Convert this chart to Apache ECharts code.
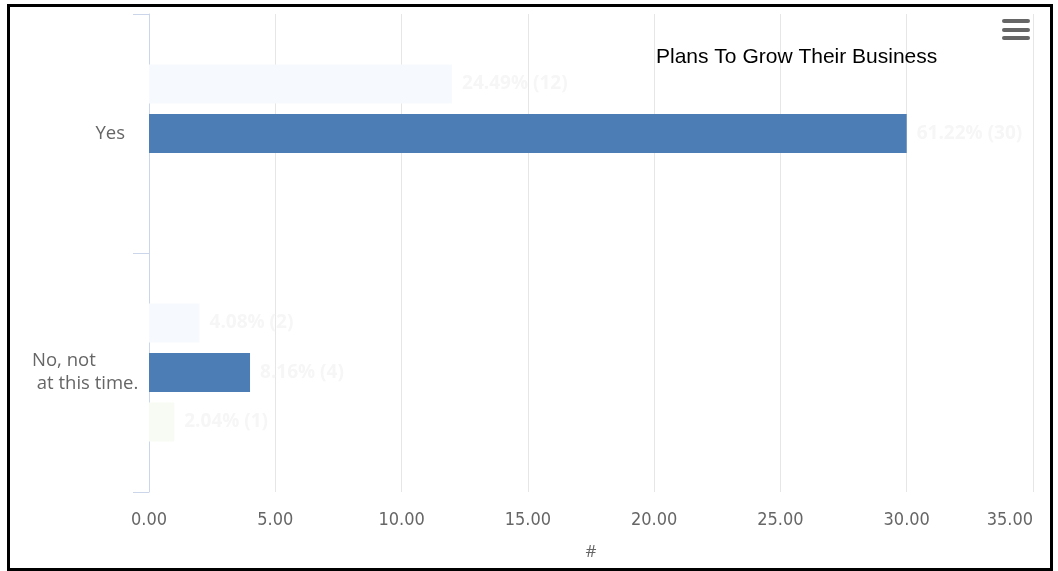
<!DOCTYPE html>
<html>
<head>
<meta charset="utf-8">
<script src="https://cdn.jsdelivr.net/npm/echarts@6/dist/echarts.min.js"></script>
<style>
html,body{margin:0;padding:0;background:#fff;}
#chart{width:1058px;height:571px;}
</style>
</head>
<body>
<div id="chart"></div>
<script>
const categories = ['Yes', 'No, not at this time.'];
const seriesNames = ['Series 1', 'Series 2', 'Series 3'];
const series1 = [12, 2];
const series2 = [30, 4];
const series3 = [null, 1];
const pct1 = ['24.49%', '4.08%'];
const pct2 = ['61.22%', '8.16%'];
const pct3 = ['', '2.04%'];
const xTicks = [0, 5, 10, 15, 20, 25, 30, 35];

const chart = echarts.init(document.getElementById('chart'));

function mkSeries(name, data, pct, color) {
  return {
    name: name,
    type: 'bar',
    data: data,
    barWidth: 39,
    barGap: '27%',
    itemStyle: { color: color },
    label: {
      show: true,
      position: 'right',
      distance: 10,
      color: '#f6f6f6',
      fontFamily: 'Open Sans',
      fontWeight: 'bold',
      fontSize: 19,
      formatter: function (p) {
        if (p.value == null) return '';
        return pct[p.dataIndex] + ' (' + p.value + ')';
      }
    }
  };
}

chart.setOption({
  animation: false,
  title: {
    text: 'Plans To Grow Their Business',
    left: 651,
    top: 42,
    textStyle: { color: '#000', fontFamily: 'Liberation Sans', fontWeight: 'normal', fontSize: 21 }
  },
  grid: { left: 149, right: 25, top: 14, bottom: 79, containLabel: false },
  xAxis: {
    type: 'value',
    min: xTicks[0],
    max: xTicks[xTicks.length - 1],
    interval: 5,
    name: '#',
    nameLocation: 'middle',
    nameGap: 52,
    nameTextStyle: { color: '#666', fontFamily: 'Open Sans', fontSize: 17 },
    axisLine: { show: false },
    axisTick: { show: false },
    axisLabel: {
      color: '#666',
      fontFamily: 'DejaVu Sans Condensed',
      fontSize: 18,
      margin: 19,
      alignMaxLabel: 'right',
      formatter: function (v) { return v.toFixed(2); }
    },
    splitLine: { show: true, lineStyle: { color: '#e6e6e6', width: 1 } }
  },
  yAxis: {
    type: 'category',
    data: categories,
    inverse: true,
    axisLine: { show: true, lineStyle: { color: '#ccd6eb', width: 1 } },
    axisTick: { show: true, length: 16, lineStyle: { color: '#ccd6eb' } },
    axisLabel: {
      margin: 5,
      color: '#666',
      fontFamily: 'Open Sans',
      fontSize: 18,
      formatter: function (v) {
        if (v === 'Yes') return '{y|Yes}';
        return '{n|No, not}\n{n| at this time.}';
      },
      rich: {
        y: { color: '#666', fontFamily: 'Open Sans', fontSize: 18.5, padding: [0, 19, 0, 0] },
        n: { color: '#666', fontFamily: 'Open Sans', fontSize: 18.5, width: 112, align: 'left', lineHeight: 23 }
      }
    }
  },
  series: [
    mkSeries(seriesNames[0], series1, pct1, '#f6f9fd'),
    mkSeries(seriesNames[1], series2, pct2, '#4d7db5'),
    mkSeries(seriesNames[2], series3, pct3, '#f7fbf3')
  ],
  graphic: [
    { type: 'rect', shape: { x: 8.5, y: 5.5, width: 1043, height: 564 }, style: { fill: 'none', stroke: '#000', lineWidth: 3 }, silent: true },
    { type: 'rect', shape: { x: 1002, y: 19, width: 28, height: 4, r: 2 }, style: { fill: '#666' } },
    { type: 'rect', shape: { x: 1002, y: 28, width: 28, height: 4, r: 2 }, style: { fill: '#666' } },
    { type: 'rect', shape: { x: 1002, y: 36, width: 28, height: 4, r: 2 }, style: { fill: '#666' } }
  ]
});
</script>
</body>
</html>
